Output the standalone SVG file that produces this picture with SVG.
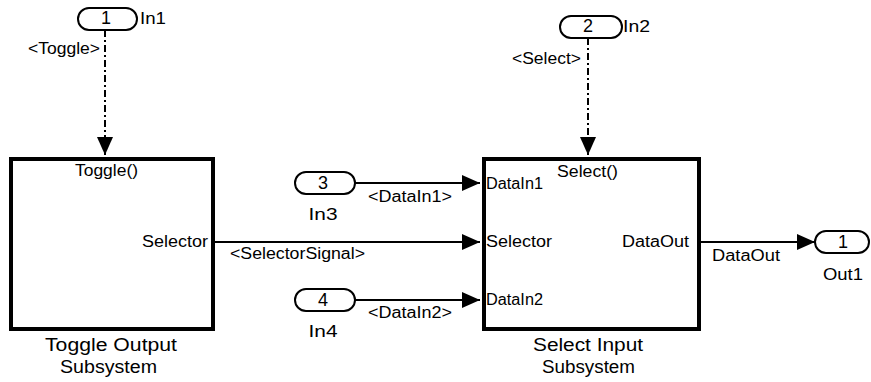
<svg xmlns="http://www.w3.org/2000/svg" width="871" height="382" viewBox="0 0 871 382">
<style>
text{font-family:"Liberation Sans",Arial,sans-serif;fill:#000}
.s{font-size:16px}
.p{font-size:17px}
.n{font-size:18px}
.b{font-size:18px}
.box{fill:#fff;stroke:#000;stroke-width:4}
.pill{fill:#fff;stroke:#000;stroke-width:2}
.ln{fill:none;stroke:#000;stroke-width:2}
.dd{fill:none;stroke:#000;stroke-width:2;stroke-dasharray:7 3 2 3}
</style>
<defs>
<marker id="ah" viewBox="0 0 18 16" refX="18" refY="8" markerWidth="18" markerHeight="16" markerUnits="userSpaceOnUse" orient="auto">
<path d="M0,0 L18,8 L0,16 Z" fill="#000"/>
</marker>
</defs>
<rect width="871" height="382" fill="#fff"/>
<g id="connectors">
<line class="dd" x1="105" y1="30" x2="105" y2="155" marker-end="url(#ah)"/>
<line class="dd" x1="588" y1="38" x2="588" y2="155" marker-end="url(#ah)"/>
<line class="ln" x1="355" y1="183" x2="480" y2="183" marker-end="url(#ah)"/>
<line class="ln" x1="215" y1="242" x2="480" y2="242" marker-end="url(#ah)"/>
<line class="ln" x1="355" y1="300" x2="480" y2="300" marker-end="url(#ah)"/>
<line class="ln" x1="701" y1="242" x2="815" y2="242" marker-end="url(#ah)"/>
<text class="s" x="28" y="54" textLength="72" lengthAdjust="spacingAndGlyphs">&lt;Toggle&gt;</text>
<text class="s" x="512" y="64" textLength="69" lengthAdjust="spacingAndGlyphs">&lt;Select&gt;</text>
<text class="s" x="368" y="202" textLength="84" lengthAdjust="spacingAndGlyphs">&lt;DataIn1&gt;</text>
<text class="s" x="230" y="259" textLength="135" lengthAdjust="spacingAndGlyphs">&lt;SelectorSignal&gt;</text>
<text class="s" x="368" y="318" textLength="84" lengthAdjust="spacingAndGlyphs">&lt;DataIn2&gt;</text>
<text class="s" x="712" y="261" textLength="68" lengthAdjust="spacingAndGlyphs">DataOut</text>
</g>
<g id="in1">
<rect class="pill" x="78" y="8" width="59" height="22" rx="11" ry="11"/>
<text class="n" x="106" y="24" text-anchor="middle">1</text>
<text class="p" x="140" y="24" textLength="26" lengthAdjust="spacingAndGlyphs">In1</text>
</g>
<g id="in2">
<rect class="pill" x="560" y="16" width="62" height="22" rx="11" ry="11"/>
<text class="n" x="588" y="32" text-anchor="middle">2</text>
<text class="p" x="623" y="32" textLength="27" lengthAdjust="spacingAndGlyphs">In2</text>
</g>
<g id="in3">
<rect class="pill" x="295" y="172" width="60" height="22" rx="11" ry="11"/>
<text class="n" x="323" y="189" text-anchor="middle">3</text>
<text class="p" x="323" y="220" text-anchor="middle" textLength="29" lengthAdjust="spacingAndGlyphs">In3</text>
</g>
<g id="in4">
<rect class="pill" x="295" y="289" width="60" height="22" rx="11" ry="11"/>
<text class="n" x="323" y="306" text-anchor="middle">4</text>
<text class="p" x="323" y="337" text-anchor="middle" textLength="29" lengthAdjust="spacingAndGlyphs">In4</text>
</g>
<g id="out1">
<rect class="pill" x="815" y="231" width="54" height="22" rx="11" ry="11"/>
<text class="n" x="843" y="248" text-anchor="middle">1</text>
<text class="p" x="843" y="280" text-anchor="middle" textLength="40" lengthAdjust="spacingAndGlyphs">Out1</text>
</g>
<g id="toggle">
<rect class="box" x="11" y="159" width="202" height="170"/>
<text class="s" x="75" y="176" textLength="63" lengthAdjust="spacingAndGlyphs">Toggle()</text>
<text class="s" x="142" y="247" textLength="66" lengthAdjust="spacingAndGlyphs">Selector</text>
<text class="b" x="45" y="351" textLength="132" lengthAdjust="spacingAndGlyphs">Toggle Output</text>
<text class="b" x="60" y="373" textLength="97" lengthAdjust="spacingAndGlyphs">Subsystem</text>
</g>
<g id="select">
<rect class="box" x="484" y="159" width="215" height="170"/>
<text class="s" x="557" y="177" textLength="61" lengthAdjust="spacingAndGlyphs">Select()</text>
<text class="s" x="486" y="189" textLength="57" lengthAdjust="spacingAndGlyphs">DataIn1</text>
<text class="s" x="486" y="247" textLength="66" lengthAdjust="spacingAndGlyphs">Selector</text>
<text class="s" x="486" y="305" textLength="57" lengthAdjust="spacingAndGlyphs">DataIn2</text>
<text class="s" x="622" y="247" textLength="67" lengthAdjust="spacingAndGlyphs">DataOut</text>
<text class="b" x="533" y="351" textLength="110" lengthAdjust="spacingAndGlyphs">Select Input</text>
<text class="b" x="542" y="373" textLength="93" lengthAdjust="spacingAndGlyphs">Subsystem</text>
</g>
</svg>
